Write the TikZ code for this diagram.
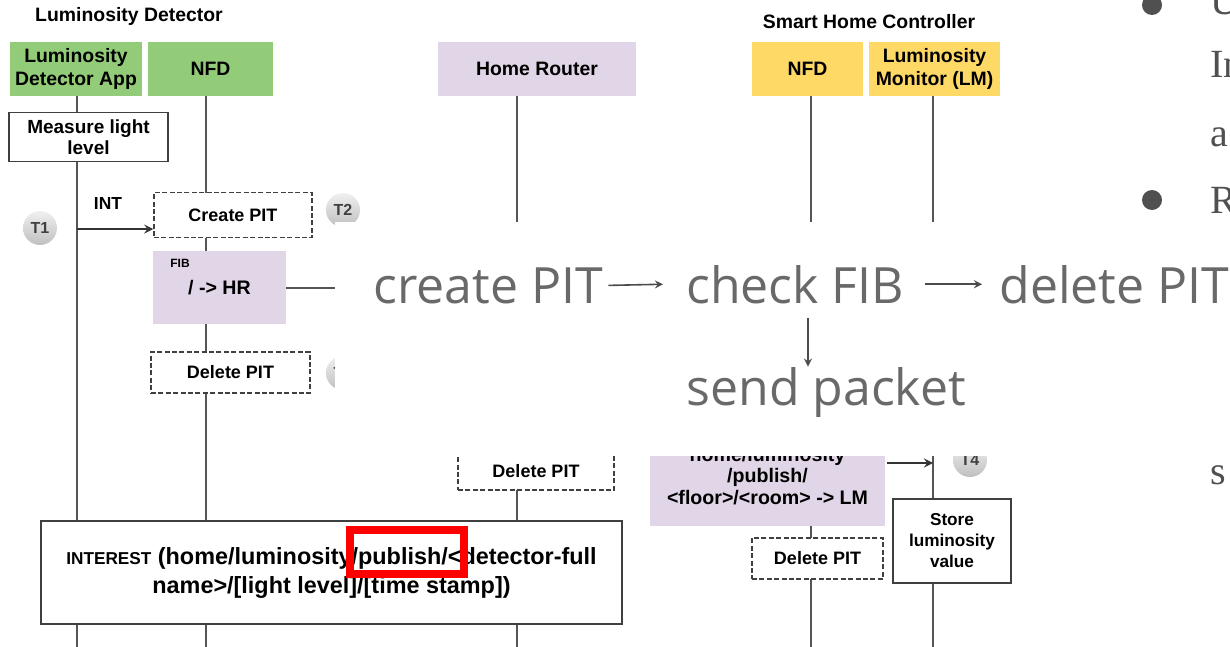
\documentclass[tikz,border=0pt]{standalone}
\usepackage{fontspec}
\setmainfont{Liberation Sans}
\newfontfamily\notefont{Open Sans}
\newfontfamily\slidefont{Liberation Serif}
\usetikzlibrary{arrows, positioning, calc}
\definecolor{ldgreen}{RGB}{147,204,120}
\definecolor{lilac}{RGB}{225,213,232}
\definecolor{shcyellow}{RGB}{255,217,102}
\definecolor{lifegray}{RGB}{85,85,85}
\definecolor{notegray}{RGB}{105,105,105}
\definecolor{slidegray}{RGB}{80,80,80}

\begin{document}
\begin{tikzpicture}[x=0.5pt, y=-0.5pt]
    \tikzstyle{title} = [inner sep=0pt, font=\fontsize{9.7}{11.5}\selectfont\bfseries]
    \tikzstyle{head} = [rectangle, inner sep=0pt, minimum height=27pt, align=center, font=\fontsize{9.7}{11.5}\selectfont\bfseries]
    \tikzstyle{proc} = [rectangle, draw=black!75, line width=0.75pt, fill=white, inner sep=0pt, align=center, font=\fontsize{9.5}{10.5}\selectfont\bfseries]
    \tikzstyle{pit} = [proc, dash pattern=on 2.5pt off 1.2pt, font=\fontsize{9}{10}\selectfont\bfseries]
    \tikzstyle{fib} = [rectangle, fill=lilac, inner sep=0pt, align=center, font=\fontsize{9.8}{10.75}\selectfont\bfseries]
    \tikzstyle{life} = [lifegray, line width=1pt]
    \tikzstyle{arrow} = [line width=1pt, ->, >=stealth, black!80]
    \tikzstyle{tmark} = [circle, top color=gray!12, bottom color=gray!50, minimum size=17pt, inner sep=0pt, font=\fontsize{8}{8}\selectfont\bfseries, text=black!75]
    \tikzstyle{slide} = [inner sep=0pt, anchor=base west, text=slidegray, font=\slidefont\fontsize{20}{20}\selectfont]
    \tikzstyle{note} = [inner sep=0pt, anchor=base west, text=notegray, font=\notefont\fontsize{25}{25}\selectfont]
    \tikzstyle{flow} = [line width=0.8pt, ->, >=stealth, black!70]

    \clip (0,0) rectangle (1230,647);
    \fill[white] (0,0) rectangle (1230,647);

    % lanes
    \node[title] (ldtitle) at (129,16) {Luminosity Detector};
    \node[head, fill=ldgreen, minimum width=66pt] (app) at (76,69) {Luminosity\\Detector App};
    \node[head, fill=ldgreen, minimum width=62.5pt] (nfdl) at (210.5,69) {NFD};
    \node[head, fill=lilac, minimum width=99pt] (hr) at (537,69) {Home Router};
    \node[title] (shctitle) at (869,22) {Smart Home Controller};
    \node[head, fill=shcyellow, minimum width=55.5pt] (nfdr) at (807.5,69) {NFD};
    \node[head, fill=shcyellow, minimum width=65.5pt] (lm) at (934.5,69) {Luminosity\\Monitor (LM)};

    \coordinate (append) at (77,647);
    \coordinate (nfdlend) at (206,647);
    \coordinate (hrend) at (517,647);
    \coordinate (nfdrend) at (811,647);
    \coordinate (lmend) at (933,647);
    \draw[life] (app.south -| append) -- (append);
    \draw[life] (nfdl.south -| nfdlend) -- (nfdlend);
    \draw[life] (hr.south -| hrend) -- (hrend);
    \draw[life] (nfdr.south -| nfdrend) -- (nfdrend);
    \draw[life] (lm.south -| lmend) -- (lmend);

    % steps
    \node[proc, minimum width=79.5pt, minimum height=24.5pt] (measure) at (88.5,137) {Measure light\\level};
    \node[pit, minimum width=79pt, minimum height=22.5pt] (createpit) at (233,215) {Create PIT};
    \node[fib, minimum width=66.5pt, minimum height=36.5pt] (fibl) at (219.5,287.5) {/ -> HR};
    \node[inner sep=0pt, font=\fontsize{6}{6}\selectfont\bfseries] (fibtag) at (180,263) {FIB};
    \node[pit, minimum width=79.5pt, minimum height=20.5pt] (delpitl) at (230.5,372.5) {Delete PIT};
    \node[pit, minimum width=78pt, minimum height=19pt] (delpithr) at (536,471) {Delete PIT};
    \node[fib, minimum width=117.5pt, minimum height=50pt] (fibr) at (767.5,476) {home/luminosity\\/publish/\\<floor>/<room> -> LM};
    \node[pit, minimum width=65.5pt, minimum height=20.5pt] (delpitr) at (817.5,558.5) {Delete PIT};
    \node[proc, minimum width=59pt, minimum height=42pt, font=\fontsize{8.6}{10.5}\selectfont\bfseries] (store) at (952,541) {Store\\luminosity\\value};

    \node[inner sep=0pt, font=\fontsize{8.7}{8.7}\selectfont\bfseries] (intlabel) at (108,204) {INT};
    \coordinate (intstart) at (77,229);
    \draw[arrow] (intstart) -- (intstart -| createpit.west);
    \draw[life] (fibl.east) -- (fibl.east -| hrend);
    \coordinate (lmin) at (887,463);
    \draw[arrow] (lmin) -- (lmin -| lmend);

    \node[tmark] (t1) at (40,228) {T1};
    \node[tmark] (t2) at (343,210) {T2};
    \node[tmark] (t3) at (343,373) {T3};
    \node[tmark] (t4) at (970,460) {T4};

    \node[proc, minimum width=290.5pt, minimum height=51.5pt, font=\fontsize{11.7}{14.5}\selectfont\bfseries] (interest) at (331.5,572.5)
        {{\fontsize{8.6}{8.6}\selectfont INTEREST} (home/luminosity/publish/<detector-full\\name>/[light level]/[time stamp])};
    \node[draw=red, line width=4pt, inner sep=0pt, minimum width=57pt, minimum height=22pt] (mark) at (407,552) {};

    % slide text behind
    \fill[slidegray] (1152,5) circle (5pt);
    \fill[slidegray] (1152,200) circle (5pt);
    \node[slide] (l1) at (1210,15) {U};
    \node[slide] (l2) at (1210,78) {In};
    \node[slide] (l3) at (1210,146) {a};
    \node[slide] (l4) at (1210,213) {R};
    \node[slide] (l5) at (1210,484) {s};

    % pasted note
    \fill[white] (335,222) rectangle (1230,456);
    \node[note] (cpit) at (373,303) {create PIT};
    \node[note] (chk) at (686,303) {check FIB};
    \node[note] (dpit) at (999,303) {delete PIT};
    \node[note] (send) at (686,405) {send packet};
    \coordinate (fork) at (808,318);
    \draw[flow] ([xshift=2.5pt]cpit.east) -- ([xshift=-11.5pt]chk.west);
    \draw[flow] ([xshift=10pt]chk.east) -- ([xshift=-8.5pt]dpit.west);
    \draw[flow] (fork) -- (fork |- send.north);
\end{tikzpicture}
\end{document}
